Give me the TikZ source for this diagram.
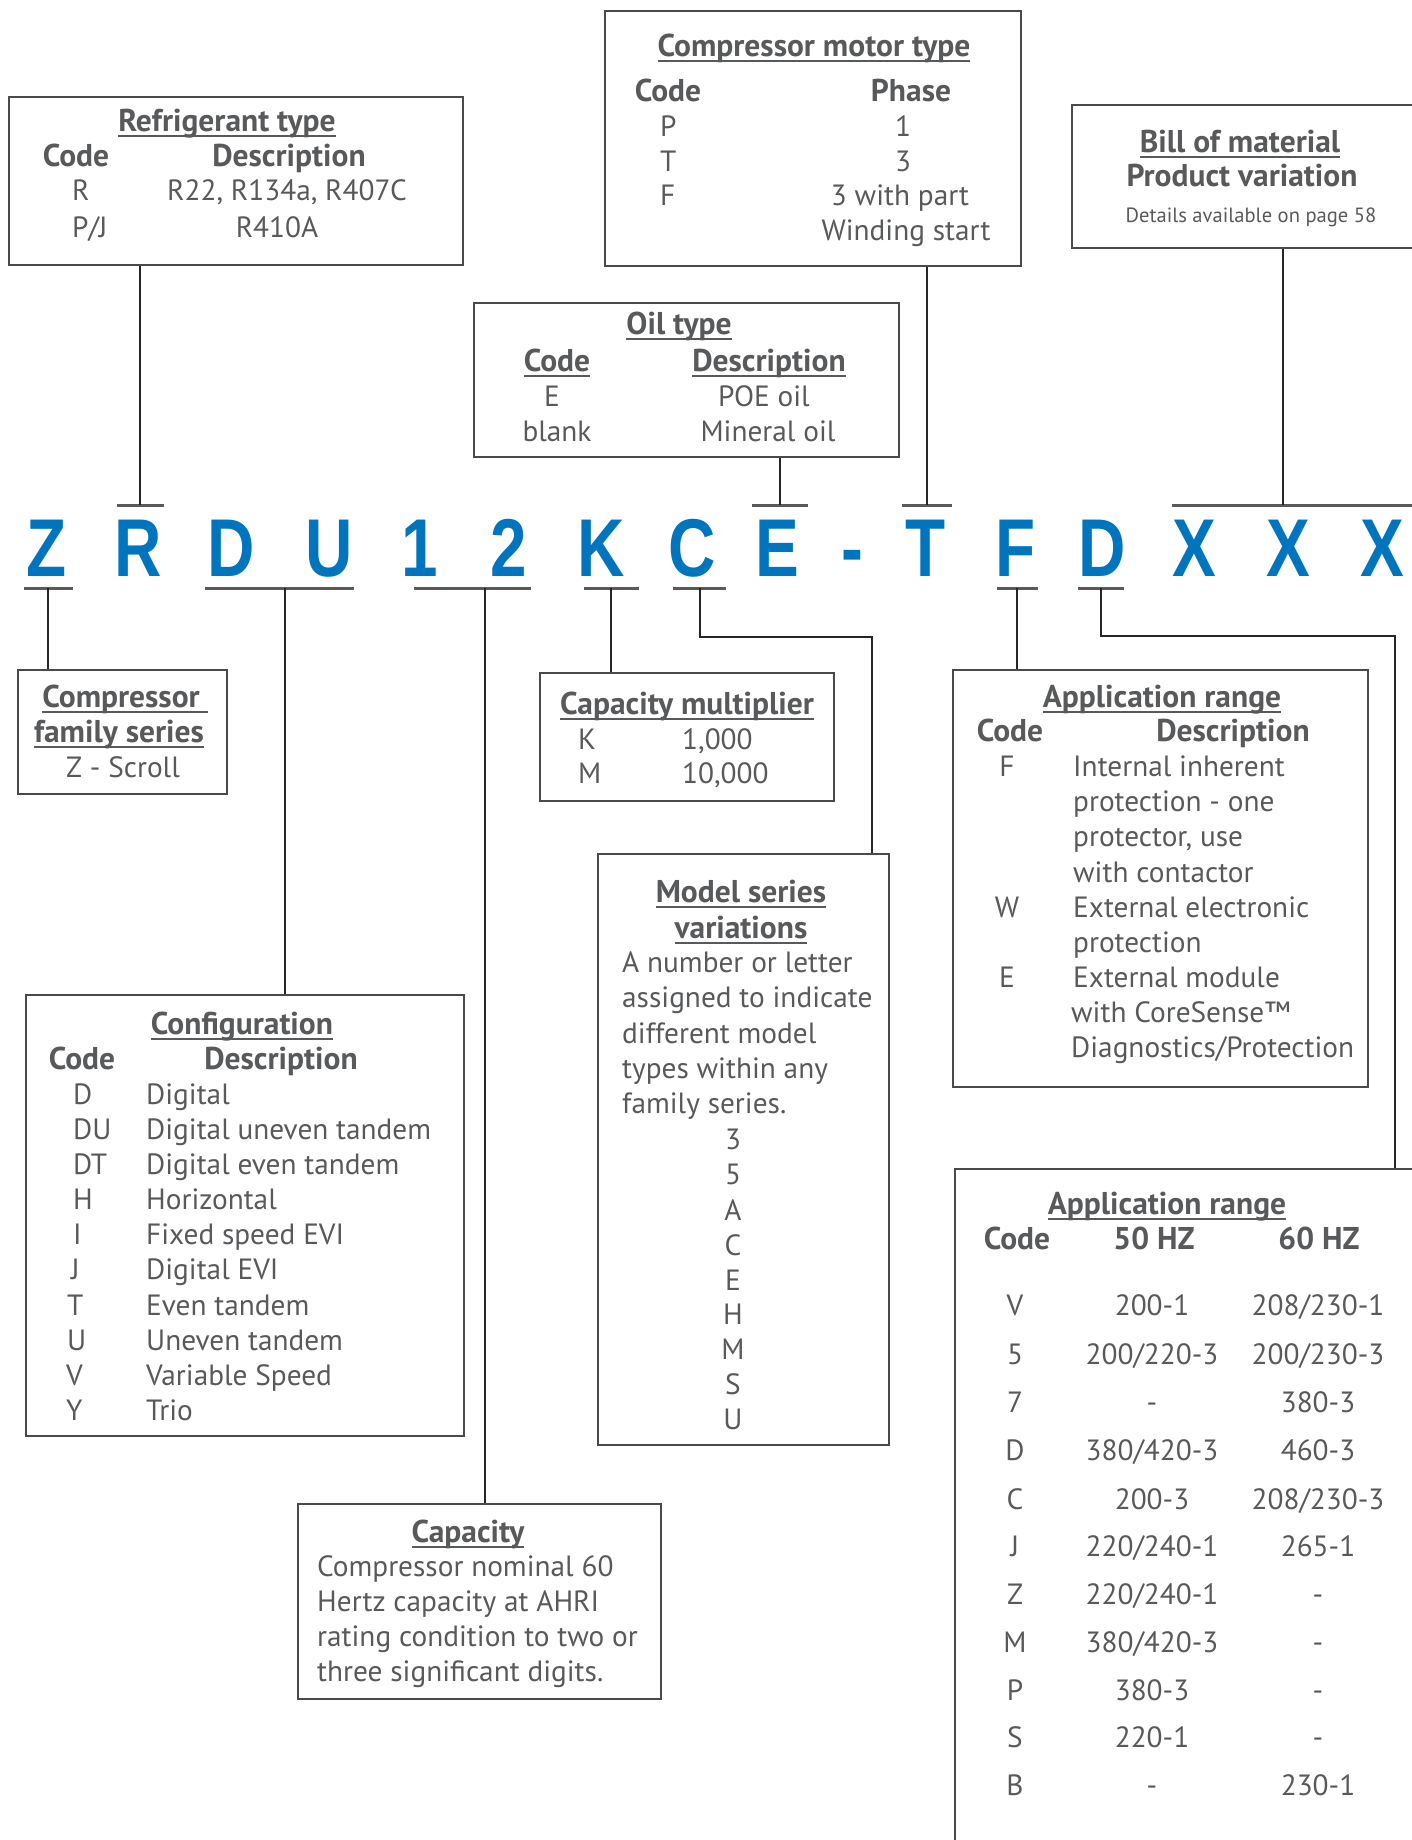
\documentclass[tikz,border=0pt]{standalone}
\usepackage{fontspec}
\setmainfont{PT Sans}
\newfontfamily\hdrfont[FakeStretch=0.8]{Liberation Sans}
\definecolor{txtgray}{HTML}{58595B}
\definecolor{boxgray}{HTML}{4A4A4C}
\definecolor{tickgray}{HTML}{5A5A5A}
\definecolor{codeblue}{HTML}{0075BE}
\newsavebox\ulbox
\newcommand\myul[1]{\sbox\ulbox{#1}\leavevmode\rlap{\rule[-5pt]{\wd\ulbox}{1.8pt}}\usebox\ulbox}
\tikzset{
  box/.style={draw=boxgray, line width=1.8pt, anchor=north west, inner sep=0pt},
  conn/.style={draw=black!85, line width=1.3pt},
  tickline/.style={draw=tickgray, line width=3pt},
  tx/.style={text=txtgray, font=\fontsize{29.3}{34}\selectfont, inner sep=0pt, anchor=mid, yshift=-7pt},
  txl/.style={tx, anchor=mid west},
  hd/.style={tx, font=\fontsize{31.5}{36}\selectfont\bfseries},
  sm/.style={tx, font=\fontsize{20.6}{24}\selectfont},
  letter/.style={text=codeblue, font=\fontsize{82}{82}\selectfont\hdrfont\bfseries, inner sep=0pt, anchor=base}
}
\begin{document}
\begin{tikzpicture}[x=1pt,y=-1pt]
\useasboundingbox (0,0) rectangle (1412,1840);
\clip (0,0) rectangle (1412,1840);

% ---------- code letters ----------
\node[letter] (L1) at (47,576) {Z};
\node[letter] (L2) at (138,576) {R};
\node[letter] (L3) at (231,576) {D};
\node[letter] (L4) at (329,576) {U};
\node[letter] (L5) at (420,576) {1};
\node[letter] (L6) at (509,576) {2};
\node[letter] (L7) at (601,576) {K};
\node[letter] (L8) at (692,576) {C};
\node[letter] (L9) at (777,576) {E};
\node[letter] (L10) at (852,576) {-};
\node[letter] (L11) at (926,576) {T};
\node[letter] (L12) at (1016,576) {F};
\node[letter] (L13) at (1102,576) {D};
\node[letter] (L14) at (1194,576) {X};
\node[letter] (L15) at (1288,576) {X};
\node[letter] (L16) at (1382,576) {X};

% ---------- boxes ----------
\node[box, minimum width=454pt, minimum height=168pt] (rt) at (8,96) {};
\node[box, minimum width=416pt, minimum height=255pt] (cm) at (604,10) {};
\node[box, minimum width=400pt, minimum height=143pt] (bm) at (1071,104) {};
\node[box, minimum width=425pt, minimum height=154pt] (ot) at (473,302) {};
\node[box, minimum width=209pt, minimum height=124pt] (cf) at (17,669) {};
\node[box, minimum width=294pt, minimum height=128pt] (cmul) at (539,672) {};
\node[box, minimum width=415pt, minimum height=417pt] (ar) at (952,669) {};
\node[box, minimum width=291pt, minimum height=591pt] (ms) at (597,853) {};
\node[box, minimum width=438pt, minimum height=441pt] (cfg) at (25,994) {};
\node[box, minimum width=363pt, minimum height=195pt] (cap) at (297,1503) {};
\node[box, minimum width=520pt, minimum height=720pt] (ar2) at (954,1168) {};

% ---------- tick marks ----------
\coordinate (uR) at (140,505);
\coordinate (uE) at (780,505);
\coordinate (uT) at (927,505);
\coordinate (uX) at (1283,505);
\coordinate (dZ) at (48,588);
\coordinate (dDU) at (285,588);
\coordinate (d12) at (485,588);
\coordinate (dK) at (611,588);
\coordinate (dC) at (700,588);
\coordinate (dF) at (1017,588);
\coordinate (dD) at (1101,588);
\draw[tickline] (117,505) -- (164,505);
\draw[tickline] (752,505) -- (808,505);
\draw[tickline] (902,505) -- (952,505);
\draw[tickline] (1172,505) -- (1412,505);
\draw[tickline] (24,588) -- (73,588);
\draw[tickline] (205,588) -- (354,588);
\draw[tickline] (414,588) -- (531,588);
\draw[tickline] (584,588) -- (639,588);
\draw[tickline] (673,588) -- (726,588);
\draw[tickline] (997,588) -- (1038,588);
\draw[tickline] (1078,588) -- (1124,588);

% ---------- connectors ----------
\draw[conn] (rt.south -| uR) -- (uR);
\draw[conn] (ot.south -| uE) -- (uE);
\draw[conn] (cm.south -| uT) -- (uT);
\draw[conn] (bm.south -| uX) -- (uX);
\draw[conn] (dZ) -- (dZ |- cf.north);
\draw[conn] (dDU) -- (dDU |- cfg.north);
\draw[conn] (d12) -- (d12 |- cap.north);
\draw[conn] (dK) -- (dK |- cmul.north);
\draw[conn] (dC) -- (700,637) -- (872,637) -- (872,853);
\draw[conn] (dF) -- (dF |- ar.north);
\draw[conn] (dD) -- (1101,636) -- (1395,636) -- (1395,1168);

% ---------- Refrigerant type ----------
\node[hd] (rt-t) at (227,122) {\myul{Refrigerant type}};
\node[hd] (rt-c) at (76,157) {Code};
\node[hd] (rt-d) at (289,157) {Description};
\node[txl] (rt-c1) at (72,191) {R};
\node[tx] (rt-d1) at (287,191) {R22, R134a, R407C};
\node[txl] (rt-c2) at (72,228) {P/J};
\node[tx] (rt-d2) at (277,228) {R410A};

% ---------- Compressor motor type ----------
\node[hd] (cm-t) at (814,47) {\myul{Compressor motor type}};
\node[hd] (cm-c) at (668,92) {Code};
\node[hd] (cm-p) at (911,92) {Phase};
\node[txl] (cm-c1) at (660,127) {P};
\node[txl] (cm-c2) at (660,162) {T};
\node[txl] (cm-c3) at (660,196) {F};
\node[tx] (cm-p1) at (903,127) {1};
\node[tx] (cm-p2) at (903,162) {3};
\node[tx] (cm-p3) at (900,196) {3 with part};
\node[tx] (cm-p4) at (906,231) {Winding start};

% ---------- Bill of material ----------
\node[hd] (bm-t) at (1240,143) {\myul{Bill of material}};
\node[hd] (bm-p) at (1242,177) {Product variation};
\node[sm] (bm-d) at (1251,213) {Details available on page 58};

% ---------- Oil type ----------
\node[hd] (ot-t) at (679,325) {\myul{Oil type}};
\node[hd] (ot-c) at (557,362) {\myul{Code}};
\node[hd] (ot-d) at (769,362) {\myul{Description}};
\node[tx] (ot-c1) at (552,397) {E};
\node[tx] (ot-d1) at (764,397) {POE oil};
\node[tx] (ot-c2) at (557,432) {blank};
\node[tx] (ot-d2) at (768,432) {Mineral oil};

% ---------- Compressor family series ----------
\node[hd] (cf-t1) at (125,698) {\myul{Compressor\ }};
\node[hd] (cf-t2) at (119,733) {\myul{family series}};
\node[tx] (cf-z) at (123,768) {Z - Scroll};

% ---------- Capacity multiplier ----------
\node[hd] (cmul-t) at (687,705) {\myul{Capacity multiplier}};
\node[txl] (cmul-k) at (578,740) {K};
\node[txl] (cmul-kv) at (682,740) {1,000};
\node[txl] (cmul-m) at (578,774) {M};
\node[txl] (cmul-mv) at (682,774) {10,000};

% ---------- Application range (protection) ----------
\node[hd] (ar-t) at (1162,698) {\myul{Application range}};
\node[hd] (ar-c) at (1010,732) {Code};
\node[hd] (ar-d) at (1233,732) {Description};
\node[tx] (ar-cF) at (1007,767) {F};
\node[tx] (ar-cW) at (1007,908) {W};
\node[tx] (ar-cE) at (1007,978) {E};
\node[txl] (ar-l1) at (1073,767) {Internal inherent};
\node[txl] (ar-l2) at (1073,802) {protection - one};
\node[txl] (ar-l3) at (1073,837) {protector, use};
\node[txl] (ar-l4) at (1073,873) {with contactor};
\node[txl] (ar-l5) at (1073,908) {External electronic};
\node[txl] (ar-l6) at (1073,943) {protection};
\node[txl] (ar-l7) at (1073,978) {External module};
\node[txl] (ar-l8) at (1071,1013) {with CoreSense™};
\node[txl] (ar-l9) at (1071,1048) {Diagnostics/Protection};

% ---------- Model series variations ----------
\node[hd] (ms-t1) at (741,893) {\myul{Model series}};
\node[hd] (ms-t2) at (741,929) {\myul{variations}};
\node[txl] (ms-l1) at (622,963) {A number or letter};
\node[txl] (ms-l2) at (622,998) {assigned to indicate};
\node[txl] (ms-l3) at (622,1034) {different model};
\node[txl] (ms-l4) at (622,1069) {types within any};
\node[txl] (ms-l5) at (622,1104) {family series.};
\node[tx] (ms-v1) at (733,1140) {3};
\node[tx] (ms-v2) at (733,1175) {5};
\node[tx] (ms-v3) at (733,1211) {A};
\node[tx] (ms-v4) at (733,1246) {C};
\node[tx] (ms-v5) at (733,1281) {E};
\node[tx] (ms-v6) at (733,1315) {H};
\node[tx] (ms-v7) at (733,1350) {M};
\node[tx] (ms-v8) at (733,1385) {S};
\node[tx] (ms-v9) at (733,1420) {U};

% ---------- Configuration ----------
\node[hd] (cfg-t) at (242,1025) {\myul{Configuration}};
\node[hd] (cfg-c) at (82,1060) {Code};
\node[hd] (cfg-d) at (281,1060) {Description};
\node[txl] (cfg-c1) at (73,1095) {D};
\node[txl] (cfg-c2) at (73,1130) {DU};
\node[txl] (cfg-c3) at (73,1165) {DT};
\node[txl] (cfg-c4) at (73,1200) {H};
\node[txl] (cfg-c5) at (73,1235) {I};
\node[txl] (cfg-c6) at (71,1270) {J};
\node[txl] (cfg-c7) at (67,1306) {T};
\node[txl] (cfg-c8) at (67,1341) {U};
\node[txl] (cfg-c9) at (66,1376) {V};
\node[txl] (cfg-c10) at (66,1411) {Y};
\node[txl] (cfg-d1) at (146,1095) {Digital};
\node[txl] (cfg-d2) at (146,1130) {Digital uneven tandem};
\node[txl] (cfg-d3) at (146,1165) {Digital even tandem};
\node[txl] (cfg-d4) at (146,1200) {Horizontal};
\node[txl] (cfg-d5) at (146,1235) {Fixed speed EVI};
\node[txl] (cfg-d6) at (146,1270) {Digital EVI};
\node[txl] (cfg-d7) at (146,1306) {Even tandem};
\node[txl] (cfg-d8) at (146,1341) {Uneven tandem};
\node[txl] (cfg-d9) at (146,1376) {Variable Speed};
\node[txl] (cfg-d10) at (146,1411) {Trio};

% ---------- Capacity ----------
\node[hd] (cap-t) at (468,1533) {\myul{Capacity}};
\node[txl] (cap-l1) at (317,1567) {Compressor nominal 60};
\node[txl] (cap-l2) at (317,1602) {Hertz capacity at AHRI};
\node[txl] (cap-l3) at (317,1637) {rating condition to two or};
\node[txl] (cap-l4) at (317,1672) {three significant digits.};

% ---------- Application range (voltage) ----------
\node[hd] (ar2-t) at (1167,1205) {\myul{Application range}};
\node[hd] (ar2-c) at (1017,1240) {Code};
\node[hd] (ar2-h5) at (1154,1240) {50 HZ};
\node[hd] (ar2-h6) at (1319,1240) {60 HZ};
\foreach \i/\c/\a/\b/\y in {1/V/200-1/208\slash 230-1/1306, 2/5/200\slash 220-3/200\slash 230-3/1355, 3/7/-/380-3/1403, 4/D/380\slash 420-3/460-3/1451, 5/C/200-3/208\slash 230-3/1500, 6/J/220\slash 240-1/265-1/1547, 7/Z/220\slash 240-1/-/1595, 8/M/380\slash 420-3/-/1643, 9/P/380-3/-/1691, 10/S/220-1/-/1738, 11/B/-/230-1/1786}{
  \node[tx] (ar2-c\i) at (1015,\y) {\c};
  \node[tx] (ar2-a\i) at (1152,\y) {\a};
  \node[tx] (ar2-b\i) at (1318,\y) {\b};
}
\end{tikzpicture}
\end{document}
